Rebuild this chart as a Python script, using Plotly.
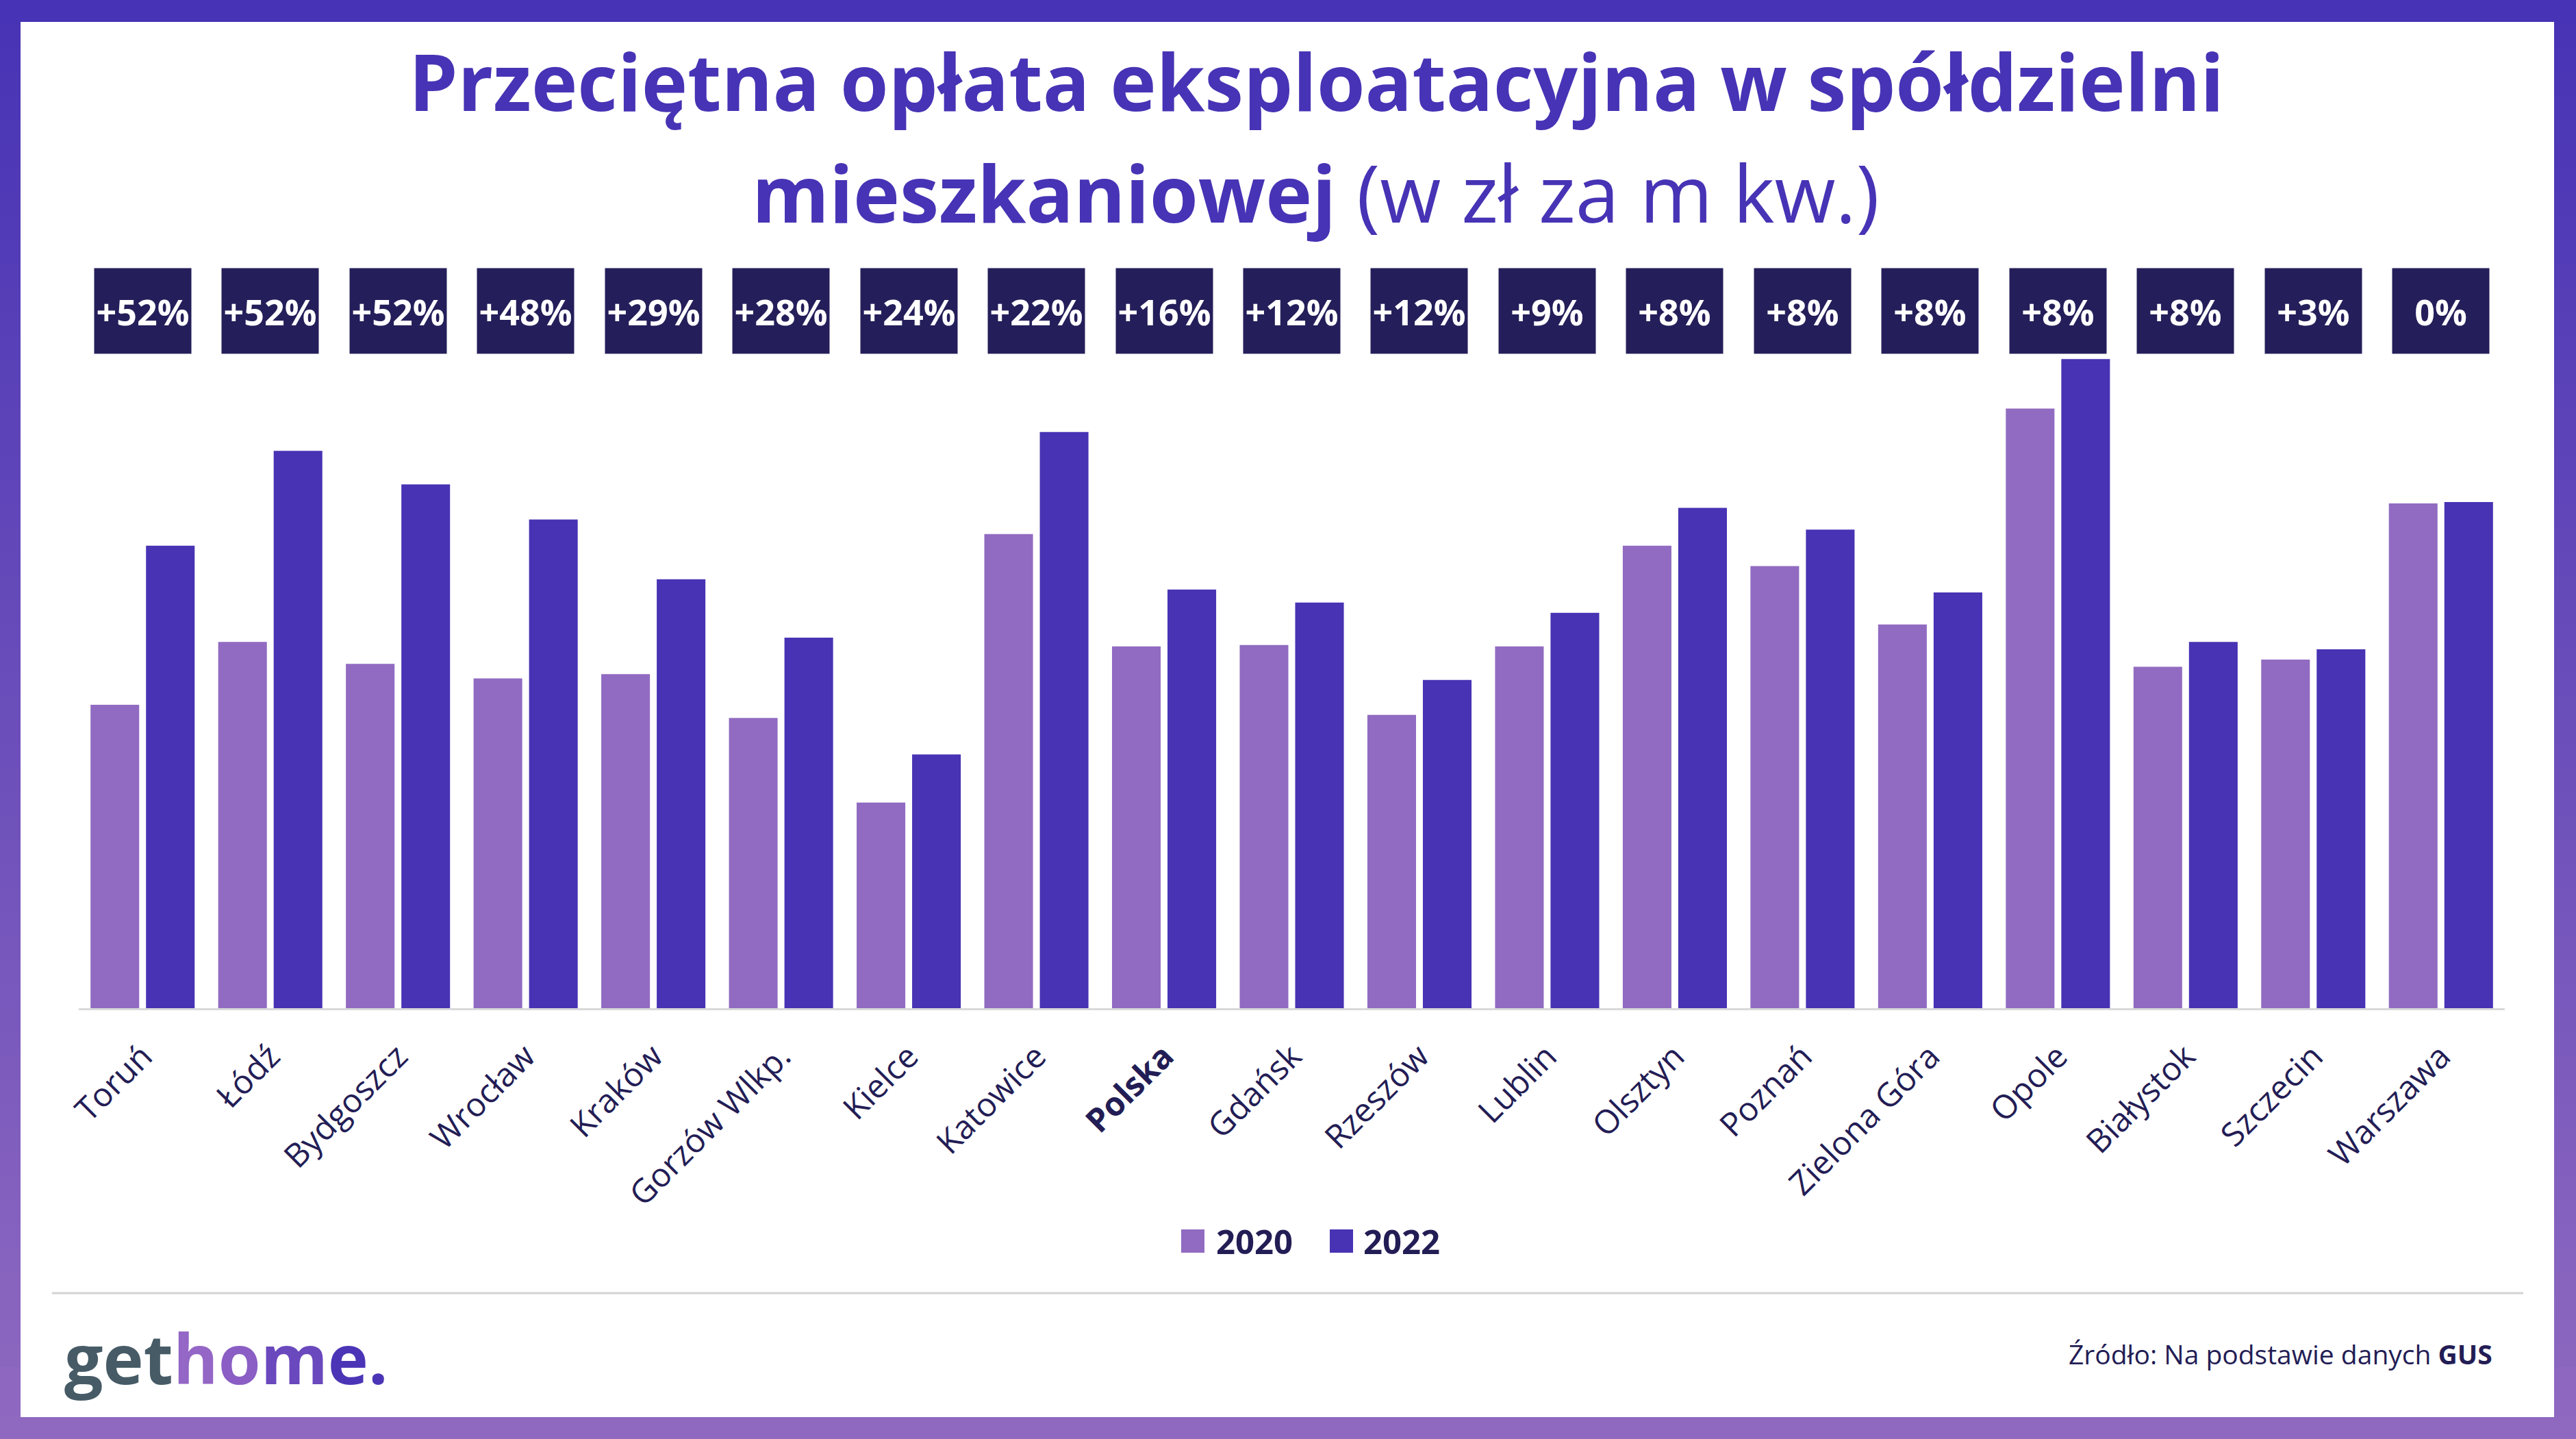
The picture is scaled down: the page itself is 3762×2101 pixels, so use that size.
import plotly.graph_objects as go

# ---------------- data ----------------
categories = ["Toruń", "Łódź", "Bydgoszcz", "Wrocław", "Kraków", "Gorzów Wlkp.", "Kielce",
              "Katowice", "Polska", "Gdańsk", "Rzeszów", "Lublin", "Olsztyn", "Poznań",
              "Zielona Góra", "Opole", "Białystok", "Szczecin", "Warszawa"]
values_2020 = [2.08, 2.51, 2.36, 2.26, 2.29, 1.99, 1.41, 3.25, 2.48, 2.49,
               2.01, 2.48, 3.17, 3.03, 2.63, 4.11, 2.34, 2.39, 3.46]
values_2022 = [3.17, 3.82, 3.59, 3.35, 2.94, 2.54, 1.74, 3.95, 2.87, 2.78,
               2.25, 2.71, 3.43, 3.28, 2.85, 4.45, 2.51, 2.46, 3.47]
change_labels = ["+52%", "+52%", "+52%", "+48%", "+29%", "+28%", "+24%", "+22%", "+16%", "+12%",
                 "+12%", "+9%", "+8%", "+8%", "+8%", "+8%", "+8%", "+3%", "0%"]
series_names = ["2020", "2022"]
highlight_category = "Polska"

# ---------------- style ----------------
W, H = 3762, 2101
ML, MR, MT, MB = 115, 104, 400, 629
PW, PH = W - ML - MR, H - MT - MB
PX_PER_UNIT = 213.0
FONT = "Open Sans"
C2020 = "#916BC1"
C2022 = "#4733B4"
NAVY = "#231D55"
BOX = "#241F5A"
TITLE_C = "#4733B5"


def px(x):
    return (x - ML) / PW


def py(y):
    return (H - MB - y) / PH


fig = go.Figure()
fig.add_bar(x=categories, y=values_2020, name=series_names[0], marker=dict(color=C2020, line=dict(width=0)))
fig.add_bar(x=categories, y=values_2022, name=series_names[1], marker=dict(color=C2022, line=dict(width=0)))

shapes = []
# gradient frame
N = 60
top_rgb = (0x47, 0x33, 0xB5)
bot_rgb = (0x8F, 0x69, 0xC0)
for i in range(N):
    t = i / (N - 1)
    col = "rgb(%d,%d,%d)" % tuple(round(a + (b - a) * t) for a, b in zip(top_rgb, bot_rgb))
    y0 = H * i / N
    y1 = H * (i + 1) / N + 1
    shapes.append(dict(type="rect", xref="paper", yref="paper", x0=px(0), x1=px(W),
                       y0=py(y1), y1=py(y0), fillcolor=col, line=dict(width=0), layer="below"))
shapes.append(dict(type="rect", xref="paper", yref="paper", x0=px(30), x1=px(3730),
                   y0=py(2069), y1=py(32), fillcolor="white", line=dict(width=0), layer="below"))
# footer separator
shapes.append(dict(type="line", xref="paper", yref="paper", x0=px(76), x1=px(3685),
                   y0=py(1888), y1=py(1888), line=dict(color="#D3D3D3", width=3)))
# legend swatches
shapes.append(dict(type="rect", xref="paper", yref="paper", x0=px(1725), x1=px(1759),
                   y0=py(1829), y1=py(1795), fillcolor=C2020, line=dict(width=0)))
shapes.append(dict(type="rect", xref="paper", yref="paper", x0=px(1942), x1=px(1976),
                   y0=py(1829), y1=py(1795), fillcolor=C2022, line=dict(width=0)))

annotations = []
# percent change boxes
for cat, lab in zip(categories, change_labels):
    annotations.append(dict(x=cat, xref="x", y=py(454), yref="paper", text="<b>%s</b>" % lab,
                            showarrow=False, bgcolor=BOX, width=141, height=124, borderpad=0,
                            xanchor="center", yanchor="middle", valign="middle",
                            font=dict(family=FONT, size=52, color="white")))
# title
annotations.append(dict(x=px(1922), y=py(117), xref="paper", yref="paper",
                        text="<b>Przeciętna opłata eksploatacyjna w spółdzielni</b>",
                        showarrow=False, xanchor="center", yanchor="middle",
                        font=dict(family=FONT, size=114, color=TITLE_C)))
annotations.append(dict(x=px(1921), y=py(280), xref="paper", yref="paper",
                        text="<b>mieszkaniowej</b> (w zł za m kw.)",
                        showarrow=False, xanchor="center", yanchor="middle",
                        font=dict(family=FONT, size=115, color=TITLE_C)))
# legend text
annotations.append(dict(x=px(1774), y=py(1812), xref="paper", yref="paper",
                        text="<b>%s</b>" % series_names[0], showarrow=False,
                        xanchor="left", yanchor="middle",
                        font=dict(family=FONT, size=49, color=NAVY)))
annotations.append(dict(x=px(1989), y=py(1812), xref="paper", yref="paper",
                        text="<b>%s</b>" % series_names[1], showarrow=False,
                        xanchor="left", yanchor="middle",
                        font=dict(family=FONT, size=49, color=NAVY)))
# logo
logo = ("<span style='color:#465B66'>get</span>"
        "<span style='color:#9466C6'>h</span>"
        "<span style='color:#8A5EC4'>o</span>"
        "<span style='color:#6A48BD'>m</span>"
        "<span style='color:#4B35B6'>e.</span>")
annotations.append(dict(x=px(92), y=py(1982), xref="paper", yref="paper",
                        text="<b>%s</b>" % logo, showarrow=False,
                        xanchor="left", yanchor="middle",
                        font=dict(family=FONT, size=100, color="#465B66")))
# source
annotations.append(dict(x=px(3642), y=py(1976), xref="paper", yref="paper",
                        text="Źródło: Na podstawie danych <b>GUS</b>", showarrow=False,
                        xanchor="right", yanchor="middle",
                        font=dict(family=FONT, size=39, color=NAVY)))

ticktext = ["<b>%s</b>" % c if c == highlight_category else c for c in categories]

fig.update_layout(
    width=W, height=H,
    margin=dict(l=ML, r=MR, t=MT, b=MB, pad=0, autoexpand=False),
    paper_bgcolor="white", plot_bgcolor="rgba(0,0,0,0)",
    barmode="group", bargap=0.131, bargroupgap=0.123,
    showlegend=False,
    shapes=shapes, annotations=annotations,
    xaxis=dict(type="category", tickmode="array", tickvals=categories, ticktext=ticktext,
               tickangle=-45, tickfont=dict(family=FONT, size=48, color=NAVY),
               showline=True, linecolor="#D9D9D9", linewidth=3, showgrid=False,
               ticks="", ticklabelstandoff=20, automargin=False, range=[-0.5, len(categories) - 0.5],
               zeroline=False),
    yaxis=dict(visible=False, range=[0, PH / PX_PER_UNIT], showgrid=False, zeroline=False),
)

fig.write_html("out.html")
